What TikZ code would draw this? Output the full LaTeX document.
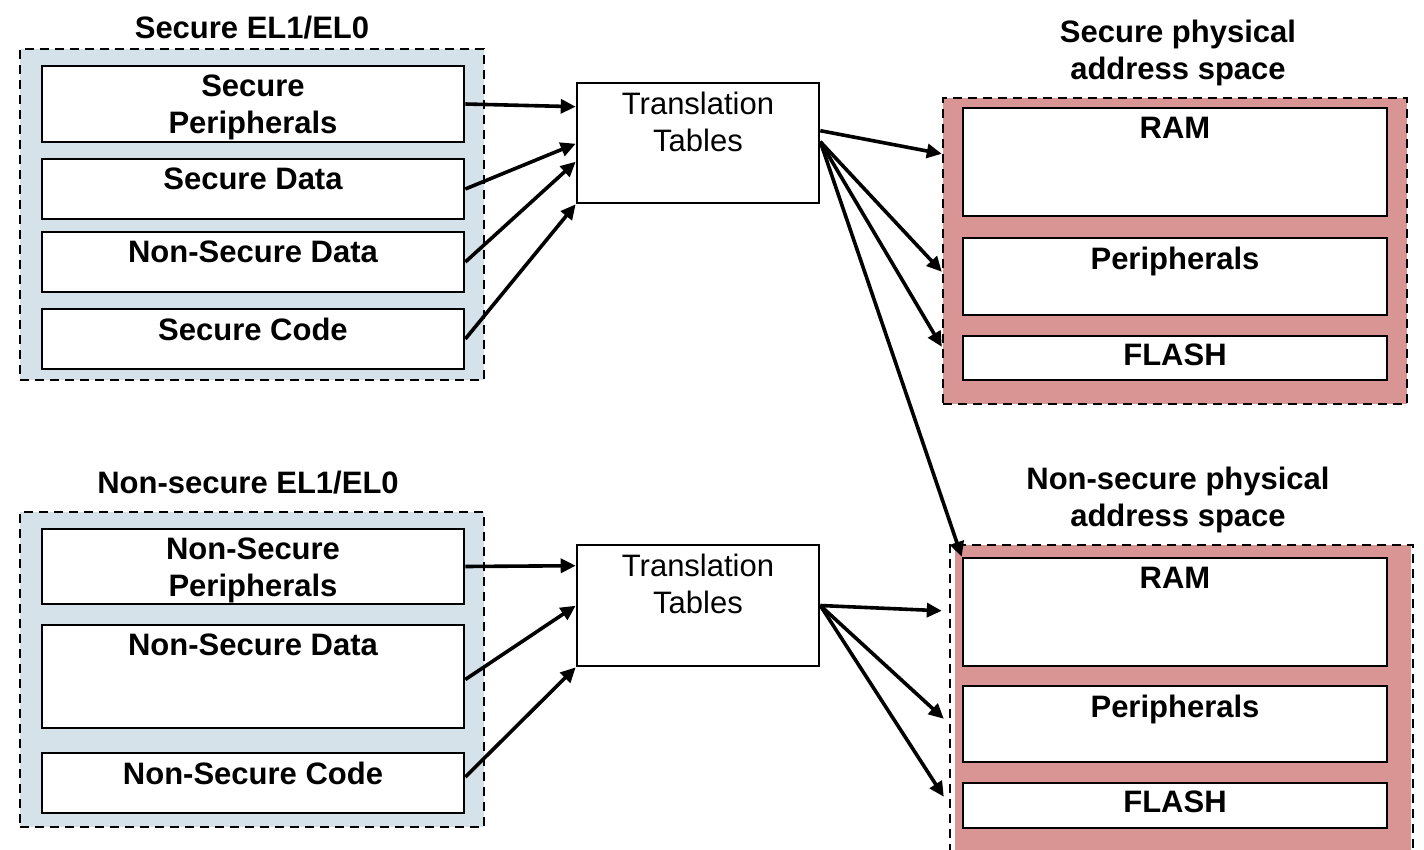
\documentclass[tikz,border=0pt]{standalone}
\usepackage{fontspec}
\setmainfont{Liberation Sans}
\usetikzlibrary{arrows.meta,calc}
\definecolor{bluefill}{HTML}{D5E2EA}
\definecolor{redfill}{HTML}{D99594}
\begin{document}
\begin{tikzpicture}[x=1pt,y=-1pt,
  grp/.style={draw=black, dash pattern=on 9pt off 6pt, line width=2.4pt, inner sep=0, rectangle},
  ibox/.style={draw=black, fill=white, line width=2.6pt, inner sep=0, rectangle},
  lbl/.style={font=\bfseries\fontsize{31}{37}\selectfont, align=center, anchor=north, inner sep=0},
  rlbl/.style={font=\fontsize{31}{37}\selectfont, align=center, anchor=north, inner sep=0},
  arr/.style={-{Triangle[length=15pt,width=14pt]}, line width=3.6pt},
]
\useasboundingbox (0,0) rectangle (1424,849);
\clip (0,0) rectangle (1424,849);

% ---------- group frames ----------
\node[grp, fill=bluefill, minimum width=464, minimum height=331] (sg) at (252,214.5) {};
\node[grp, fill=bluefill, minimum width=464, minimum height=315] (nsg) at (252,669.5) {};
\node[grp, fill=redfill, minimum width=464, minimum height=306] (spa) at (1175,251) {};
\fill[redfill] (955,545) rectangle (1411,880);
\node[grp, minimum width=463, minimum height=335] (nspa) at (1181.5,712.5) {};

% ---------- titles ----------
\node[lbl] (sgt) at (252,16) {Secure EL1/EL0};
\node[lbl] (nsgt) at (248,471) {Non-secure EL1/EL0};
\node[lbl] (spat) at (1178,20) {Secure physical\\address space};
\node[lbl] (nspat) at (1178,467) {Non-secure physical\\address space};

% ---------- secure EL1/EL0 boxes ----------
\node[ibox, minimum width=422, minimum height=76] (sp) at (253,104) {};
\node[lbl] (spt) at ([yshift=-10pt]sp.north) {Secure\\Peripherals};
\node[ibox, minimum width=422, minimum height=60] (sd) at (253,189) {};
\node[lbl] (sdt) at ([yshift=-10pt]sd.north) {Secure Data};
\node[ibox, minimum width=422, minimum height=60] (nsd) at (253,262) {};
\node[lbl] (nsdt) at ([yshift=-10pt]nsd.north) {Non-Secure Data};
\node[ibox, minimum width=422, minimum height=60] (sc) at (253,339) {};
\node[lbl] (sct) at ([yshift=-10pt]sc.north) {Secure Code};

% ---------- non-secure EL1/EL0 boxes ----------
\node[ibox, minimum width=422, minimum height=75] (nsp) at (253,566.5) {};
\node[lbl] (nspt) at ([yshift=-10pt]nsp.north) {Non-Secure\\Peripherals};
\node[ibox, minimum width=422, minimum height=103] (nsdb) at (253,676.5) {};
\node[lbl] (nsdbt) at ([yshift=-10pt]nsdb.north) {Non-Secure Data};
\node[ibox, minimum width=422, minimum height=60] (nsc) at (253,783) {};
\node[lbl] (nsct) at ([yshift=-10pt]nsc.north) {Non-Secure Code};

% ---------- translation tables ----------
\node[ibox, minimum width=242, minimum height=120] (tt) at (698,143) {};
\node[rlbl] (ttt) at ([yshift=-10pt]tt.north) {Translation\\Tables};
\node[ibox, minimum width=242, minimum height=121] (ttb) at (698,605.5) {};
\node[rlbl] (ttbt) at ([yshift=-10pt]ttb.north) {Translation\\Tables};

% ---------- secure physical address space ----------
\node[ibox, minimum width=424, minimum height=108] (ram) at (1175,162) {};
\node[lbl] (ramt) at ([yshift=-10pt]ram.north) {RAM};
\node[ibox, minimum width=424, minimum height=77] (per) at (1175,276.5) {};
\node[lbl] (pert) at ([yshift=-10pt]per.north) {Peripherals};
\node[ibox, minimum width=424, minimum height=44] (fl) at (1175,358) {};
\node[lbl] (flt) at ([yshift=-9pt]fl.north) {FLASH};

% ---------- non-secure physical address space ----------
\node[ibox, minimum width=424, minimum height=108] (ramb) at (1175,612) {};
\node[lbl] (rambt) at ([yshift=-10pt]ramb.north) {RAM};
\node[ibox, minimum width=424, minimum height=76] (perb) at (1175,724) {};
\node[lbl] (perbt) at ([yshift=-10pt]perb.north) {Peripherals};
\node[ibox, minimum width=424, minimum height=45] (flb) at (1175,805.5) {};
\node[lbl] (flbt) at ([yshift=-9pt]flb.north) {FLASH};

% ---------- connectors: secure side ----------
\draw[arr] (sp.east) -- ($(tt.north west)+(0,25)$);
\draw[arr] (sd.east) -- ($(tt.north west)+(0,62)$);
\draw[arr] (nsd.east) -- ($(tt.north west)+(0,80)$);
\draw[arr] (sc.east) -- (tt.south west);

\draw[arr] ($(tt.north east)+(0,49)$) -- ($(spa.north west)+(0,57)$);
\draw[arr] ($(tt.north east)+(0,60)$) -- ($(spa.north west)+(0,175)$);
\draw[arr] ($(tt.north east)+(0,60)$) -- ($(spa.north west)+(0,250)$);
\draw[arr] ($(tt.north east)+(0,60)$) -- (ramb.north west);

% ---------- connectors: non-secure side ----------
\draw[arr] (nsp.east) -- ($(ttb.north west)+(0,22)$);
\draw[arr] ([yshift=-3pt]nsdb.east) -- ($(ttb.north west)+(0,62)$);
\draw[arr] ([yshift=6pt]nsc.east) -- (ttb.south west);

\draw[arr] (ttb.east) -- ($(nspa.north west)+(-7,67)$);
\draw[arr] (ttb.east) -- ($(nspa.north west)+(-5,175)$);
\draw[arr] (ttb.east) -- ($(nspa.north west)+(-5,253)$);
\end{tikzpicture}
\end{document}
